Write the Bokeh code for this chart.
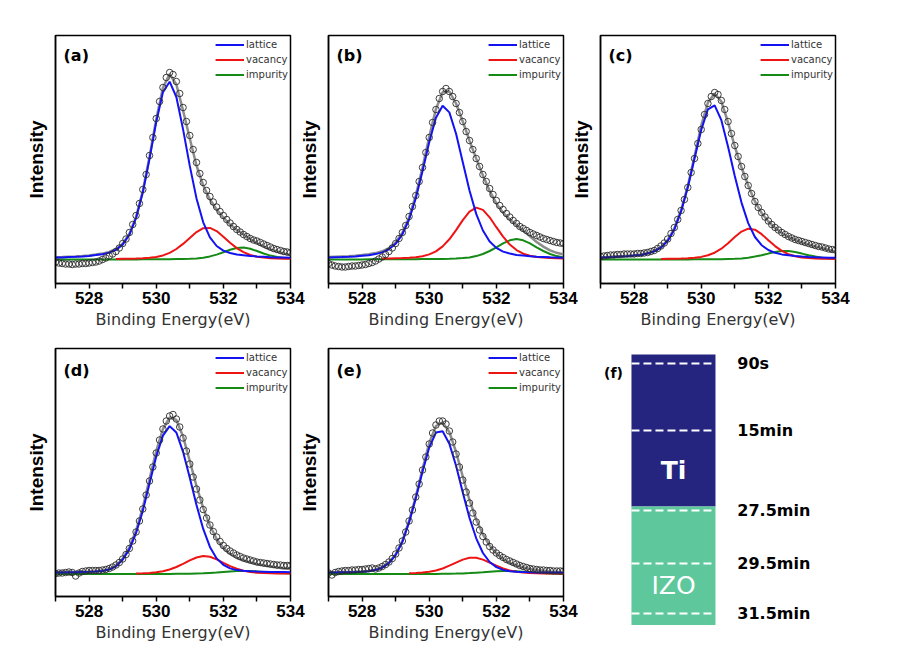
from bokeh.plotting import figure
from bokeh.layouts import row, column
from bokeh.models import Range1d, FixedTicker, Legend, LegendItem, Label
from bokeh.core.properties import value
from bokeh.embed import file_html
from bokeh.resources import INLINE

NAN = float("nan")

# ---------------- data ----------------
X_TICKS = [528, 530, 532, 534]
X_MINOR = [527, 529, 531, 533]

FIT_E = [527.0, 527.2, 527.4, 527.6, 527.8, 528.0, 528.2, 528.4, 528.6, 528.8,
         529.0, 529.2, 529.4, 529.6, 529.8, 530.0, 530.2, 530.4, 530.6, 530.8,
         531.0, 531.2, 531.4, 531.6, 531.8, 532.0, 532.2, 532.4, 532.6, 532.8,
         533.0, 533.2, 533.4, 533.6, 533.8, 534.0]

DATA_E = [527.0, 527.1, 527.2, 527.3, 527.4, 527.5, 527.6, 527.7, 527.8, 527.9,
          528.0, 528.1, 528.2, 528.3, 528.4, 528.5, 528.6, 528.7, 528.8, 528.9,
          529.0, 529.1, 529.2, 529.3, 529.4, 529.5, 529.6, 529.7, 529.8, 529.9,
          530.0, 530.1, 530.2, 530.3, 530.4, 530.5, 530.6, 530.7, 530.8, 530.9,
          531.0, 531.1, 531.2, 531.3, 531.4, 531.5, 531.6, 531.7, 531.8, 531.9,
          532.0, 532.1, 532.2, 532.3, 532.4, 532.5, 532.6, 532.7, 532.8, 532.9,
          533.0, 533.1, 533.2, 533.3, 533.4, 533.5, 533.6, 533.7, 533.8, 533.9,
          534.0]

# (a)
A_DATA = [-2.5, -3.5, -4.0, -4.5, -4.5, -5.0, -4.5, -4.5, -4.0, -4.0,
          -3.5, -3.0, -2.5, -1.5, 0.0, 1.5, 3.5, 5.5, 8.0, 11.5,
          16.0, 20.5, 27.0, 35.0, 44.0, 56.0, 70.0, 85.0, 104.0, 122.0,
          141.0, 158.0, 172.0, 182.0, 187.0, 185.0, 178.0, 166.0, 152.0, 138.0,
          124.0, 110.0, 97.0, 86.0, 77.0, 69.0, 63.0, 57.5, 52.5, 48.0,
          44.0, 40.0, 36.5, 33.0, 30.0, 27.5, 25.0, 23.0, 21.0, 19.5,
          18.5, 17.0, 15.5, 14.0, 12.5, 11.0, 10.0, 9.0, 8.0, 7.5,
          7.0]
A_ENV = [2.2, 2.4, 2.8, 3.1, 3.5, 4.1, 4.9, 5.9, 7.5, 10.3, 15.7, 25.6, 42.6, 68.4,
         102.6, 140.2, 171.7, 185.5, 175.0, 149.0, 121.0, 94.0, 74.0, 60.0, 50.0,
         42.0, 35.0, 29.5, 25.0, 20.5, 16.5, 13.0, 10.0, 8.0, 6.0, 4.5]
A_LAT = [1.9, 2.1, 2.4, 2.7, 3.1, 3.6, 4.4, 5.3, 6.9, 9.6, 14.9, 24.7, 41.5, 66.9,
         100.6, 137.4, 167.3, 177.8, 162.5, 130.1, 93.6, 61.1, 37.2, 22.1, 13.5,
         8.9, 6.5, 5.0, 4.3, 3.6, 3.1, 2.7, 2.3, 2.0, 1.9, 1.7]
A_VAC = [NAN, NAN, NAN, NAN, NAN, NAN, NAN, NAN, NAN, 0.6, 0.7, 0.8, 1.0, 1.3,
         1.8, 2.6, 4.1, 6.6, 10.5, 15.6, 21.6, 27.4, 31.3, 31.6, 28.4,
         22.8, 16.7, 11.4, 7.3, 4.5, 2.8, 1.9, 1.3, 1.0, 0.8, 0.7]
A_IMP = [0.1, 0.1, 0.1, 0.1, 0.1, 0.1, 0.1, 0.1, 0.1, 0.1, 0.1, 0.1, 0.1, 0.2,
         0.2, 0.2, 0.3, 0.3, 0.4, 0.5, 0.7, 1.1, 1.8, 3.1, 4.9,
         7.2, 9.7, 11.5, 11.9, 10.7, 8.5, 6.0, 3.9, 2.4, 1.4, 0.9]

# (b)
B_DATA = [-4.0, -5.5, -6.5, -7.0, -7.5, -7.5, -7.0, -6.5, -6.5, -6.0,
          -5.5, -5.0, -4.0, -3.0, -1.5, 0.5, 2.5, 5.0, 8.0, 11.5,
          16.0, 21.0, 27.0, 34.0, 43.0, 53.0, 64.0, 78.0, 92.0, 107.0,
          122.0, 137.0, 150.0, 161.0, 168.0, 171.0, 168.0, 163.0, 156.0, 147.0,
          138.0, 128.0, 119.0, 110.0, 101.0, 93.0, 85.0, 78.0, 71.0, 65.0,
          59.0, 54.0, 50.0, 46.0, 42.5, 39.0, 36.0, 33.0, 31.0, 29.0,
          27.0, 25.5, 24.0, 22.5, 21.0, 20.0, 19.0, 18.0, 17.0, 16.5,
          16.0]
B_ENV = [2.4, 2.7, 3.0, 3.3, 3.8, 4.4, 5.2, 6.4, 8.2, 11.4, 17.1, 26.8, 42.1, 63.9,
         91.9, 122.8, 150.4, 167.4, 168.0, 156.0, 138.0, 118.9, 100.9, 84.1, 68.7,
         56.1, 46.8, 40.0, 34.5, 28.9, 23.1, 17.5, 12.9, 9.2, 6.7, 5.0]
B_LAT = [1.9, 2.2, 2.4, 2.7, 3.1, 3.7, 4.3, 5.4, 7.1, 10.2, 15.7, 25.1, 40.0, 61.3,
         88.2, 117.3, 141.8, 153.7, 147.1, 125.7, 97.2, 69.0, 45.6, 29.0, 18.0,
         11.6, 7.9, 5.9, 4.6, 3.9, 3.3, 2.8, 2.5, 2.2, 2.0, 1.8]
B_VAC = [NAN, NAN, NAN, NAN, NAN, NAN, NAN, NAN, 0.9, 1.0, 1.2, 1.4, 1.8, 2.3,
         3.3, 5.1, 8.1, 13.1, 20.2, 29.4, 39.4, 47.8, 51.9, 49.6, 42.2,
         32.3, 22.8, 14.9, 9.4, 5.8, 3.7, 2.5, 1.9, 1.5, 1.3, 1.1]
B_IMP = [0.1, 0.1, 0.1, 0.1, 0.1, 0.1, 0.2, 0.2, 0.2, 0.2, 0.2, 0.3, 0.3, 0.3,
         0.4, 0.4, 0.5, 0.6, 0.7, 0.9, 1.4, 2.1, 3.4, 5.5, 8.5,
         12.2, 16.1, 19.2, 20.5, 19.2, 16.1, 12.2, 8.5, 5.5, 3.4, 2.1]

# (c)
C_DATA = [3.0, 3.5, 4.0, 4.5, 4.5, 5.0, 5.0, 5.5, 5.5, 5.5,
          5.5, 6.0, 6.0, 6.5, 7.0, 8.0, 9.0, 11.0, 13.5, 16.5,
          20.5, 26.0, 32.0, 40.0, 49.0, 60.0, 72.0, 87.0, 101.0, 116.0,
          130.0, 145.0, 156.0, 163.0, 167.0, 165.0, 159.0, 150.0, 138.0, 126.0,
          114.0, 103.0, 93.0, 83.0, 74.0, 66.0, 58.0, 52.0, 47.0, 42.5,
          38.5, 35.0, 32.0, 29.5, 27.0, 25.0, 23.0, 21.5, 20.0, 19.0,
          18.0, 17.0, 16.0, 15.0, 14.0, 13.0, 12.5, 11.5, 10.5, 10.0,
          9.5]
C_ENV = [2.2, 2.4, 2.9, 3.3, 3.7, 4.3, 5.1, 6.4, 8.7, 12.5, 19.4, 31.0, 49.2, 73.4,
         103.0, 134.0, 157.0, 166.0, 158.0, 137.0, 113.0, 92.0, 74.0, 58.0, 46.5,
         38.0, 31.5, 26.5, 22.5, 19.5, 17.0, 15.0, 13.0, 11.5, 9.5, 8.0]
C_LAT = [2.0, 2.2, 2.5, 2.9, 3.3, 3.9, 4.6, 5.9, 8.1, 11.8, 18.6, 30.1, 48.1, 71.9,
         100.9, 129.6, 150.2, 154.1, 139.3, 112.8, 83.5, 56.9, 36.4, 22.5, 14.3,
         9.5, 6.7, 5.1, 4.2, 3.5, 3.0, 2.6, 2.3, 2.1, 1.8, 1.7]
C_VAC = [NAN, NAN, NAN, NAN, NAN, NAN, NAN, NAN, NAN, 0.6, 0.7, 0.8, 0.9, 1.2,
         1.7, 2.6, 4.2, 6.8, 10.8, 16.2, 22.4, 27.9, 30.8, 29.8, 25.3,
         19.3, 13.4, 8.6, 5.3, 3.2, 2.0, 1.4, 1.1, 0.8, 0.7, 0.6]
C_IMP = [0.0, 0.0, 0.1, 0.1, 0.1, 0.1, 0.1, 0.1, 0.1, 0.1, 0.1, 0.1, 0.1, 0.1,
         0.2, 0.2, 0.2, 0.3, 0.3, 0.5, 0.7, 1.1, 1.8, 2.9, 4.3,
         5.9, 7.4, 8.4, 8.4, 7.4, 5.9, 4.3, 2.9, 1.8, 1.1, 0.7]

# (d)
D_DATA = [0.5, 1.0, 1.0, 1.5, 2.0, 1.5, -2.0, 1.0, 2.5, 3.0,
          3.5, 3.5, 3.5, 3.5, 4.0, 4.5, 5.5, 7.0, 9.0, 11.5,
          15.0, 19.5, 25.5, 33.0, 42.0, 53.0, 65.0, 79.0, 93.0, 107.0,
          121.0, 134.0, 145.0, 153.0, 158.0, 159.5, 155.0, 147.0, 136.0, 123.0,
          110.0, 97.0, 85.0, 74.0, 64.5, 56.0, 49.0, 42.5, 37.0, 32.5,
          28.5, 25.5, 23.0, 21.0, 19.0, 17.5, 16.0, 15.0, 14.0, 13.0,
          12.0, 11.5, 11.0, 10.5, 10.0, 9.5, 9.0, 9.0, 8.5, 8.5,
          8.5]
D_ENV = [1.7, 1.8, 2.0, 2.1, 2.3, 2.5, 2.8, 3.4, 4.8, 8.2, 15.5, 26.5, 43.5, 66.5,
         95.0, 123.0, 145.0, 156.5, 154.0, 137.5, 113.0, 88.0, 66.0, 48.5, 35.0,
         26.0, 20.0, 16.0, 13.5, 11.5, 10.0, 8.5, 7.5, 6.5, 5.5, 5.0]
D_LAT = [1.5, 1.6, 1.7, 1.8, 2.0, 2.2, 2.5, 3.0, 4.4, 7.6, 14.2, 24.6, 41.0, 63.0,
         90.6, 117.5, 138.4, 147.9, 141.5, 122.2, 96.2, 69.0, 45.1, 27.1, 15.6,
         9.2, 5.6, 3.9, 3.2, 2.8, 2.5, 2.3, 2.1, 2.0, 1.9, 1.8]
D_VAC = [NAN, NAN, NAN, NAN, NAN, NAN, NAN, NAN, NAN, NAN, NAN, NAN, 0.6, 0.8,
         1.1, 1.8, 2.8, 4.5, 7.0, 10.2, 13.6, 16.5, 18.0, 17.2, 14.6,
         11.2, 7.9, 5.2, 3.2, 2.0, 1.3, 0.9, 0.7, 0.5, 0.4, 0.4]
D_IMP = [0.0, 0.0, 0.0, 0.0, 0.0, 0.0, 0.0, 0.0, 0.0, 0.0, 0.0, 0.0, 0.0, 0.0,
         0.0, 0.1, 0.1, 0.1, 0.2, 0.2, 0.3, 0.5, 0.7, 1.1, 1.5,
         2.0, 2.5, 2.9, 3.0, 2.9, 2.5, 2.0, 1.5, 1.1, 0.7, 0.5]

# (e)
E_DATA = [1.0, -1.0, 1.5, 2.5, 3.0, 3.5, 3.5, 4.0, 4.0, 4.5,
          4.5, 5.0, 5.5, 6.0, 5.0, 6.0, 7.5, 9.5, 12.0, 15.5,
          20.0, 26.0, 33.0, 42.0, 53.0, 64.0, 77.0, 90.0, 104.0, 117.0,
          130.0, 141.0, 149.0, 153.0, 153.0, 150.0, 143.0, 132.0, 120.0, 107.0,
          94.0, 82.0, 71.0, 61.0, 52.0, 44.0, 37.5, 32.0, 27.5, 24.0,
          21.0, 18.5, 16.5, 14.5, 13.0, 11.5, 10.0, 8.5, 7.5, 6.5,
          5.5, 5.0, 4.5, 4.0, 4.0, 3.5, 3.5, 3.0, 3.0, 3.0,
          3.0]
E_ENV = [1.7, 1.8, 1.9, 2.0, 2.2, 2.6, 3.1, 4.3, 6.8, 11.4, 19.7, 33.0, 53.0, 77.5,
         105.0, 131.0, 148.0, 151.5, 142.0, 122.0, 97.5, 74.0, 54.5, 39.5, 28.5,
         20.5, 15.0, 11.0, 8.5, 6.5, 5.0, 4.0, 3.2, 2.6, 2.2, 2.0]
E_LAT = [1.5, 1.6, 1.7, 1.8, 2.0, 2.3, 2.8, 3.9, 6.3, 10.8, 18.9, 32.0, 51.6, 75.6,
         102.2, 126.4, 141.4, 142.8, 130.3, 108.3, 81.5, 56.0, 35.7, 21.0, 12.0,
         6.9, 4.1, 2.8, 2.2, 1.9, 1.7, 1.6, 1.5, 1.4, 1.4, 1.3]
E_VAC = [NAN, NAN, NAN, NAN, NAN, NAN, NAN, NAN, NAN, NAN, NAN, NAN, 0.7, 0.9,
         1.4, 2.2, 3.5, 5.5, 8.3, 11.4, 14.4, 16.2, 16.2, 14.4, 11.4,
         8.3, 5.5, 3.5, 2.2, 1.4, 0.9, 0.7, 0.5, 0.4, 0.4, 0.3]
E_IMP = [0.0, 0.0, 0.0, 0.0, 0.0, 0.0, 0.0, 0.0, 0.0, 0.0, 0.0, 0.0, 0.0, 0.0,
         0.0, 0.1, 0.1, 0.2, 0.3, 0.4, 0.6, 0.9, 1.3, 1.7, 2.3,
         2.7, 3.0, 3.0, 2.7, 2.3, 1.7, 1.3, 0.9, 0.6, 0.4, 0.3]

SERIES_NAMES = ["lattice", "vacancy", "impurity"]

# (f) depth profile schematic
LAYER_NAMES = ["Ti", "IZO"]
LAYER_TOP = [0, 152]
LAYER_BOTTOM = [152, 271]
ETCH_LABELS = ["90s", "15min", "27.5min", "29.5min", "31.5min"]
ETCH_DEPTH = [9, 76, 156, 209, 259]

# ---------------- style ----------------
BLUE = "#1212f2"
RED = "#ee1414"
GREEN = "#158a15"
GRAY = "#8c8c8c"
TI_COLOR = "#252580"
IZO_COLOR = "#5ec89c"


def make_panel(tag, data, env, lat, vac, imp, y_lo, y_hi, b_left, b_top, m_left, tag_off):
    p = figure(frame_width=235, frame_height=248,
               x_range=Range1d(527, 534), y_range=Range1d(y_lo, y_hi),
               output_backend="svg", toolbar_location=None, title=None,
               min_border_left=b_left, min_border_right=20,
               min_border_top=b_top, min_border_bottom=52,
               border_fill_color=None, background_fill_color="white",
               outline_line_color="black", outline_line_width=1.5)
    if m_left:
        p.margin = (0, 0, 0, m_left)
    p.xgrid.visible = False
    p.ygrid.visible = False

    xa = p.xaxis[0]
    xa.ticker = FixedTicker(ticks=X_TICKS, minor_ticks=X_MINOR)
    xa.major_tick_out = 5
    xa.major_tick_in = 0
    xa.minor_tick_out = 5
    xa.minor_tick_in = 0
    xa.major_tick_line_width = 1.5
    xa.minor_tick_line_width = 1.5
    xa.axis_line_width = 1.5
    xa.major_label_standoff = 3
    xa.major_label_text_font = "Liberation Sans"
    xa.major_label_text_font_style = "bold"
    xa.major_label_text_font_size = "17px"
    xa.major_label_text_color = "black"
    xa.axis_label = "Binding Energy(eV)"
    xa.axis_label_text_font = "DejaVu Sans"
    xa.axis_label_text_font_style = "normal"
    xa.axis_label_text_font_size = "16px"
    xa.axis_label_text_color = "#333333"
    xa.axis_label_standoff = 3

    ya = p.yaxis[0]
    ya.ticker = FixedTicker(ticks=[])
    ya.major_tick_out = 0
    ya.major_tick_in = 0
    ya.minor_tick_out = 0
    ya.minor_tick_in = 0
    ya.axis_line_width = 1.5
    ya.axis_label = "Intensity"
    ya.axis_label_text_font = "Liberation Sans"
    ya.axis_label_text_font_style = "bold"
    ya.axis_label_text_font_size = "19px"
    ya.axis_label_text_color = "black"
    ya.axis_label_standoff = 9

    p.line(FIT_E, env, line_color=GRAY, line_width=2.5)
    r_imp = p.line(FIT_E, imp, line_color=GREEN, line_width=2)
    r_vac = p.line(FIT_E, vac, line_color=RED, line_width=2)
    r_lat = p.line(FIT_E, lat, line_color=BLUE, line_width=2)
    p.scatter(DATA_E, data, marker="circle", size=6.5, line_color="#2a2a2a",
              fill_color=None, line_width=0.9)

    legend = Legend(items=[LegendItem(label=SERIES_NAMES[0], renderers=[r_lat]),
                           LegendItem(label=SERIES_NAMES[1], renderers=[r_vac]),
                           LegendItem(label=SERIES_NAMES[2], renderers=[r_imp])],
                    location="top_right", orientation="vertical",
                    border_line_color=None, background_fill_alpha=0,
                    label_text_font="DejaVu Sans", label_text_font_size="10px",
                    label_text_color="#333333", glyph_width=29, glyph_height=15,
                    label_height=15, label_standoff=2, spacing=0, padding=1, margin=2)
    p.add_layout(legend)

    p.add_layout(Label(x=527.24, y=y_hi - tag_off, text=tag, text_baseline="middle",
                       text_align="left", text_font="DejaVu Sans",
                       text_font_style="bold", text_font_size="16px", text_color="black"))
    return p


TOP_Y = (-24, 224)
BOT_Y = (-22.5, 225.5)

pa = make_panel("(a)", A_DATA, A_ENV, A_LAT, A_VAC, A_IMP, *TOP_Y, 55, 35, 0, 19.5)
pb = make_panel("(b)", B_DATA, B_ENV, B_LAT, B_VAC, B_IMP, *TOP_Y, 36, 35, -18, 19.5)
pc = make_panel("(c)", C_DATA, C_ENV, C_LAT, C_VAC, C_IMP, *TOP_Y, 36, 35, -19, 19.5)
pd = make_panel("(d)", D_DATA, D_ENV, D_LAT, D_VAC, D_IMP, *BOT_Y, 55, 13, 0, 22)
pe = make_panel("(e)", E_DATA, E_ENV, E_LAT, E_VAC, E_IMP, *BOT_Y, 36, 13, -18, 22)

# panel (f)
pf = figure(frame_width=280, frame_height=290,
            x_range=Range1d(-0.571, 2.762), y_range=Range1d(284, -6),
            output_backend="svg", toolbar_location=None, title=None,
            x_axis_location=None, y_axis_location=None, min_border=0,
            outline_line_color=None, border_fill_color=None,
            background_fill_color=None)
pf.xgrid.visible = False
pf.ygrid.visible = False
pf.quad(left=0, right=1, top=LAYER_TOP, bottom=LAYER_BOTTOM,
        fill_color=[TI_COLOR, IZO_COLOR], line_color=None)
pf.segment(x0=0, x1=1, y0=ETCH_DEPTH, y1=ETCH_DEPTH, line_color="white",
           line_width=2, line_dash="8 4")
pf.text(x=1.26, y=ETCH_DEPTH, text=ETCH_LABELS, text_baseline="middle",
        text_align="left", text_font=value("DejaVu Sans"), text_font_style="bold",
        text_font_size="16px", text_color="black")
pf.text(x=[0.5], y=[116], text=[LAYER_NAMES[0]], text_baseline="middle",
        text_align="center", text_font=value("DejaVu Sans"), text_font_style="bold",
        text_font_size="25px", text_color="white")
pf.text(x=[0.5], y=[231], text=[LAYER_NAMES[1]], text_baseline="middle",
        text_align="center", text_font=value("DejaVu Sans"), text_font_style="normal",
        text_font_size="25px", text_color="white")
pf.add_layout(Label(x=-0.214, y=18, text="(f)", text_baseline="middle",
                    text_align="center", text_font="DejaVu Sans",
                    text_font_style="bold", text_font_size="14px", text_color="black"))

layout = column(row(pa, pb, pc), row(pd, pe, pf))

with open("out.html", "w") as f:
    f.write(file_html(layout, INLINE))
